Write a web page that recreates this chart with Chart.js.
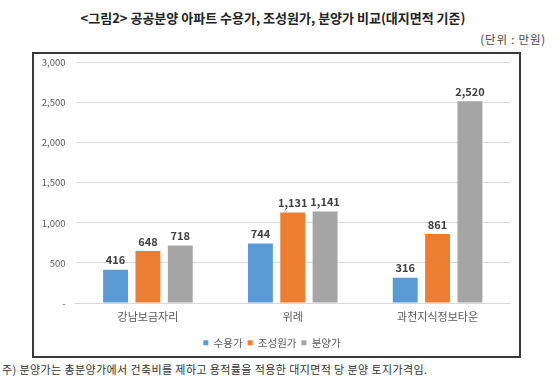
<!DOCTYPE html>
<html>
<head>
<meta charset="utf-8">
<script src="https://cdn.jsdelivr.net/npm/chart.js@4"></script>
<style>
  body { margin: 0; width: 560px; height: 385px; background: #fff; position: relative; overflow: hidden;
         font-family: "Noto Sans CJK KR", sans-serif; }
  #title { position: absolute; left: 0; width: 546px; top: 8px; text-align: center;
           font-size: 13px; font-weight: bold; color: #222; }
  #unit { position: absolute; right: 14px; top: 31px; font-size: 11.5px; color: #444; letter-spacing: 0.8px; }
  #box { position: absolute; left: 32px; top: 52px; width: 485px; height: 302px;
         border: 2px solid #3a3a3a; }
  #chart { position: absolute; left: 34px; top: 47px; display: block; }
  #note { position: absolute; left: 2px; top: 361px; font-size: 11px; color: #333; letter-spacing: 0.4px; }
</style>
</head>
<body>
<div id="title">&lt;그림2&gt; 공공분양 아파트 수용가, 조성원가, 분양가 비교(대지면적 기준)</div>
<div id="unit">(단위 : 만원)</div>
<div id="box"></div>
<canvas id="chart" width="485" height="314"></canvas>
<div id="note">주) 분양가는 총분양가에서 건축비를 제하고 용적률을 적용한 대지면적 당 분양 토지가격임.</div>
<script>
const categories = ['강남보금자리', '위례', '과천지식정보타운'];
const acquisition = [416, 744, 316];   // 수용가
const development = [648, 1131, 861];  // 조성원가
const saleLand = [718, 1141, 2520];    // 분양가
const yTicks = [0, 500, 1000, 1500, 2000, 2500, 3000];

const valueLabels = {
    id: 'valueLabels',
    afterDatasetsDraw(chart) {
        const ctx = chart.ctx;
        ctx.save();
        ctx.font = 'bold 11px "Noto Sans CJK KR", sans-serif';
        ctx.fillStyle = '#404040';
        ctx.textAlign = 'center';
        ctx.textBaseline = 'bottom';
        chart.data.datasets.forEach((ds, i) => {
            chart.getDatasetMeta(i).data.forEach((bar, j) => {
                ctx.fillText(ds.data[j].toLocaleString('en-US'), bar.x, bar.y - 4);
            });
        });
        ctx.restore();
    }
};

const ctx = document.getElementById('chart').getContext('2d');
const myChart = new Chart(ctx, {
    type: 'bar',
    data: {
        labels: categories,
        datasets: [
            { label: '수용가', data: acquisition, backgroundColor: '#5b9bd5' },
            { label: '조성원가', data: development, backgroundColor: '#ed7d31' },
            { label: '분양가', data: saleLand, backgroundColor: '#a5a5a5' }
        ]
    },
    options: {
        responsive: false,
        animation: false,
        datasets: { bar: { categoryPercentage: 0.67, barPercentage: 0.77 } },
        layout: { padding: { top: 2, right: 9, bottom: 3, left: 0 } },
        plugins: {
            legend: {
                position: 'bottom',
                labels: { boxWidth: 5, boxHeight: 5, padding: 5, color: '#595959',
                          font: { size: 10.5, family: '"Noto Sans CJK KR", sans-serif' } }
            },
            tooltip: { enabled: false }
        },
        scales: {
            x: {
                afterFit(scale) { scale.height = 29.5; },
                grid: { display: false },
                border: { color: '#d9d9d9' },
                ticks: { color: '#595959', padding: -1,
                         font: { size: 11, family: '"Noto Sans CJK KR", sans-serif' } }
            },
            y: {
                min: 0, max: 3000,
                afterFit(scale) { scale.width = 41.5; },
                afterBuildTicks(scale) { scale.ticks = yTicks.map(v => ({ value: v })); },
                grid: { color: '#d9d9d9', drawTicks: false },
                border: { display: false },
                ticks: {
                    color: '#595959', padding: 10,
                    font: { size: 9.5, family: '"Noto Sans CJK KR", sans-serif' },
                    callback: v => v === 0 ? '-' : v.toLocaleString('en-US')
                }
            }
        }
    },
    plugins: [valueLabels]
});
</script>
</body>
</html>
